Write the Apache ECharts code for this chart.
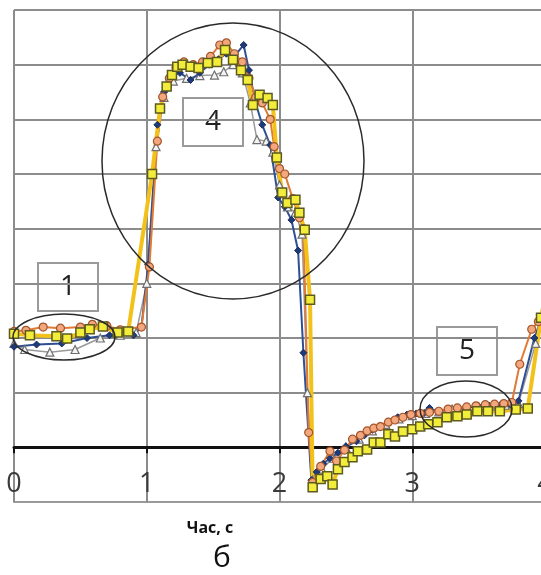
<!DOCTYPE html>
<html>
<head>
<meta charset="utf-8">
<script src="https://cdn.jsdelivr.net/npm/echarts@6/dist/echarts.min.js"></script>
<style>
  html, body { margin: 0; padding: 0; background: #fff; }
  #chart { width: 541px; height: 575px; }
</style>
</head>
<body>
<div id="chart"></div>
<script>
// tick labels of the time axis
const timeTicks = [0, 1, 2, 3, 4];

// [time, value] pairs
const blueData = [
  [0, 1.84], [0.17, 1.88], [0.36, 1.9], [0.55, 2.0], [0.72, 2.05], [0.9, 2.05], [0.96, 2.2],
  [1.01, 3.34], [1.08, 5.9], [1.13, 6.5], [1.18, 6.8], [1.25, 6.85], [1.33, 6.72], [1.4, 6.85],
  [1.47, 7.0], [1.54, 7.1], [1.6, 7.2], [1.66, 7.15], [1.73, 7.36], [1.77, 6.9], [1.82, 6.3],
  [1.87, 5.9], [1.93, 5.53], [1.99, 4.57], [2.04, 4.4], [2.09, 4.16], [2.14, 3.6], [2.18, 1.73],
  [2.24, -0.6], [2.28, -0.45], [2.33, -0.3], [2.38, -0.2], [2.44, -0.1], [2.5, 0.02], [2.58, 0.11],
  [2.64, 0.22], [2.7, 0.32], [2.76, 0.4], [2.82, 0.46], [2.89, 0.55], [2.96, 0.6], [3.03, 0.62],
  [3.09, 0.63], [3.13, 0.72], [3.2, 0.65], [3.27, 0.7], [3.34, 0.72], [3.42, 0.73], [3.5, 0.75],
  [3.58, 0.76], [3.66, 0.77], [3.74, 0.78], [3.8, 0.85], [3.92, 2.0], [3.98, 2.4]
];

const orangeData = [
  [0, 2.12], [0.09, 2.14], [0.22, 2.2], [0.35, 2.18], [0.5, 2.2], [0.59, 2.25], [0.7, 2.22],
  [0.8, 2.15], [0.96, 2.2], [1.02, 3.3], [1.08, 5.6], [1.12, 6.41], [1.17, 6.75], [1.22, 6.95],
  [1.28, 7.05], [1.35, 7.0], [1.42, 7.05], [1.48, 7.15], [1.55, 7.36], [1.6, 7.4], [1.66, 7.2],
  [1.72, 7.05], [1.77, 6.75], [1.82, 6.4], [1.87, 6.3], [1.93, 6.0], [1.96, 5.5], [2.0, 5.1],
  [2.04, 5.0], [2.1, 4.55], [2.15, 4.2], [2.18, 4.0], [2.22, 0.27], [2.25, -0.64], [2.31, -0.35],
  [2.38, -0.07], [2.43, -0.25], [2.49, -0.05], [2.55, 0.15], [2.61, 0.22], [2.66, 0.3], [2.71, 0.35],
  [2.76, 0.38], [2.82, 0.46], [2.87, 0.5], [2.93, 0.55], [2.99, 0.6], [3.06, 0.62], [3.13, 0.64],
  [3.2, 0.66], [3.27, 0.7], [3.34, 0.72], [3.41, 0.74], [3.48, 0.76], [3.55, 0.78], [3.62, 0.79],
  [3.69, 0.8], [3.75, 0.82], [3.81, 1.52], [3.9, 2.16], [3.95, 2.3], [4.02, 2.5]
];

const grayData = [
  [0, 1.9], [0.08, 1.79], [0.27, 1.74], [0.46, 1.79], [0.65, 2.0], [0.8, 2.05], [0.92, 2.1],
  [1.0, 3.0], [1.07, 5.5], [1.13, 6.4], [1.2, 6.7], [1.3, 6.75], [1.4, 6.8], [1.51, 6.81],
  [1.58, 6.87], [1.65, 7.0], [1.72, 6.85], [1.78, 6.3], [1.83, 5.63], [1.9, 5.6], [1.95, 5.4],
  [2.0, 4.8], [2.06, 4.4], [2.12, 4.3], [2.17, 3.9], [2.21, 1.0], [2.25, -0.6], [2.32, -0.4],
  [2.4, -0.2], [2.5, 0.0], [2.6, 0.15], [2.7, 0.3], [2.8, 0.42], [2.9, 0.52], [3.0, 0.58],
  [3.1, 0.62], [3.2, 0.65], [3.3, 0.7], [3.4, 0.72], [3.5, 0.74], [3.6, 0.76], [3.7, 0.77],
  [3.8, 0.8], [3.93, 1.9], [4.0, 2.4]
];

const yellowData = [
  [0, 2.08], [0.12, 2.05], [0.32, 2.03], [0.4, 1.99], [0.5, 2.1], [0.57, 2.16], [0.67, 2.21],
  [0.78, 2.1], [0.86, 2.12], [1.04, 5.0], [1.1, 6.2], [1.15, 6.6], [1.19, 6.81], [1.23, 6.96],
  [1.27, 7.0], [1.33, 6.96], [1.39, 6.94], [1.46, 7.03], [1.53, 7.05], [1.59, 7.27], [1.65, 7.09],
  [1.71, 6.9], [1.76, 6.72], [1.8, 6.26], [1.85, 6.45], [1.91, 6.39], [1.95, 6.26], [1.98, 5.3],
  [2.02, 4.66], [2.06, 4.47], [2.12, 4.53], [2.15, 4.29], [2.19, 3.98], [2.23, 2.7], [2.25, -0.73],
  [2.31, -0.58], [2.36, -0.53], [2.4, -0.68], [2.44, -0.4], [2.49, -0.27], [2.55, -0.18], [2.59, -0.07],
  [2.66, -0.04], [2.71, 0.09], [2.76, 0.09], [2.82, 0.24], [2.87, 0.2], [2.93, 0.29], [3.0, 0.33],
  [3.06, 0.38], [3.12, 0.42], [3.19, 0.46], [3.26, 0.55], [3.34, 0.57], [3.41, 0.6], [3.49, 0.66],
  [3.57, 0.66], [3.66, 0.66], [3.78, 0.69], [3.87, 0.71], [3.97, 2.37], [4.02, 3.0]
];

const chart = echarts.init(document.getElementById('chart'), null, { renderer: 'canvas' });

const boxLabel = (x, y, text) => ({
  type: 'group',
  z: 100,
  children: [
    { type: 'rect', shape: { x: x, y: y, width: 60, height: 48 },
      style: { fill: '#fff', stroke: '#9a9a9a', lineWidth: 2 } },
    { type: 'text', x: x + 30, y: y + 24,
      style: { text: text, fill: '#222', font: '28px "Open Sans"', align: 'center', verticalAlign: 'middle' } }
  ]
});

const ring = (cx, cy, rx, ry) => ({
  type: 'ellipse', z: 100,
  shape: { cx: cx, cy: cy, rx: rx, ry: ry },
  style: { fill: 'none', stroke: '#2a2a2a', lineWidth: 1.5 }
});

chart.setOption({
  animation: false,
  backgroundColor: '#fff',
  grid: { left: 14, right: -4, top: 10, bottom: 73, containLabel: false, outerBoundsMode: 'none' },
  xAxis: [
    {
      // bottom axis: labels sit inside the plot, just above the lowest grid line
      type: 'value',
      min: timeTicks[0],
      max: timeTicks[timeTicks.length - 1],
      interval: 1,
      axisLine: { onZero: false, lineStyle: { color: '#9a9a9a', width: 2 } },
      axisTick: { show: true, inside: true, length: 5, lineStyle: { color: '#8c8c8c', width: 2 } },
      axisLabel: { inside: true, margin: 4, fontSize: 27, color: '#3a3a3a', fontFamily: 'Open Sans' },
      splitLine: { show: true, lineStyle: { color: '#8c8c8c', width: 2 } }
    },
    {
      // bold zero line with short ticks hanging below it
      type: 'value',
      position: 'top',
      min: timeTicks[0],
      max: timeTicks[timeTicks.length - 1],
      interval: 1,
      axisLine: { onZero: true, lineStyle: { color: '#111', width: 3 } },
      axisTick: { show: true, inside: true, length: 6, lineStyle: { color: '#111', width: 2 } },
      axisLabel: { show: false },
      splitLine: { show: false }
    }
  ],
  yAxis: {
    type: 'value',
    min: -1,
    max: 8,
    interval: 1,
    axisLine: { show: false },
    axisTick: { show: false },
    axisLabel: { show: false },
    splitLine: { show: true, lineStyle: { color: '#8c8c8c', width: 2 } }
  },
  series: [
    {
      type: 'line', data: grayData, symbol: 'triangle', symbolSize: 8,
      lineStyle: { color: '#9a9a9a', width: 1.5 },
      itemStyle: { color: '#f4f4f4', borderColor: '#6f6f6f', borderWidth: 1.2 }
    },
    {
      type: 'line', data: blueData, symbol: 'diamond', symbolSize: 7,
      lineStyle: { color: '#2f4f94', width: 2 },
      itemStyle: { color: '#1f3a78', borderColor: '#1a2f60', borderWidth: 1 }
    },
    {
      type: 'line', data: orangeData, symbol: 'circle', symbolSize: 8,
      lineStyle: { color: '#e07a34', width: 2 },
      itemStyle: { color: '#f2a77c', borderColor: '#a4552c', borderWidth: 1.2 }
    },
    {
      type: 'line', data: yellowData, symbol: 'rect', symbolSize: 9,
      lineStyle: { color: '#f2c21a', width: 4 },
      itemStyle: { color: '#f2ec3a', borderColor: '#5c5a1e', borderWidth: 1.5 }
    }
  ],
  graphic: [
    ring(233, 161, 131, 138),
    ring(64, 337, 51, 23),
    ring(466, 409, 46, 28),
    boxLabel(38, 263, '1'),
    boxLabel(183, 98, '4'),
    boxLabel(437, 327, '5'),
    { type: 'text', x: 210, y: 528, z: 100,
      style: { text: 'Час, с', fill: '#111', font: 'bold 16px "Open Sans"', align: 'center', verticalAlign: 'middle' } },
    { type: 'text', x: 222, y: 558, z: 100,
      style: { text: 'б', fill: '#111', font: '30px "Open Sans"', align: 'center', verticalAlign: 'middle' } }
  ]
});
</script>
</body>
</html>
